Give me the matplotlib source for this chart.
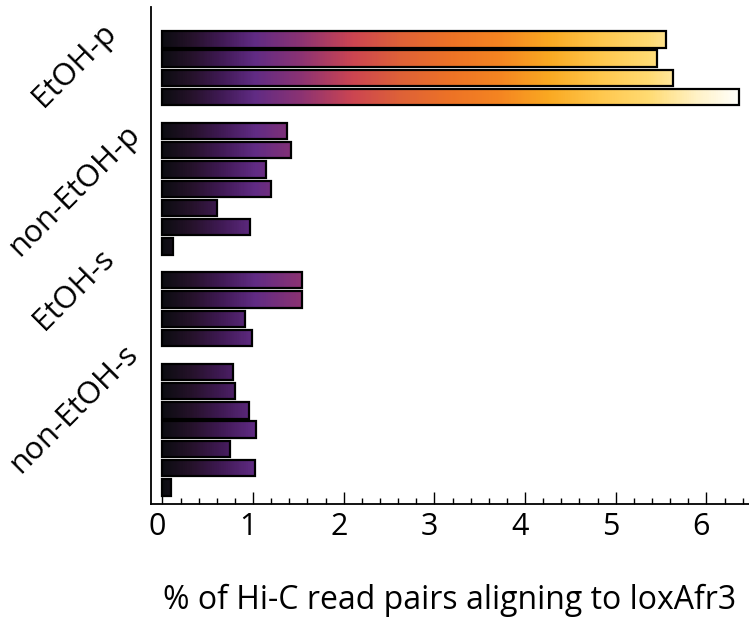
import numpy as np
import matplotlib
matplotlib.use("Agg")
import matplotlib.pyplot as plt
from matplotlib.colors import LinearSegmentedColormap
import matplotlib.transforms as mtransforms

plt.rcParams['font.family'] = ['Open Sans', 'DejaVu Sans']

# ---- data ----
groups = ["EtOH-p", "non-EtOH-p", "EtOH-s", "non-EtOH-s"]
etoh_p = [5.55, 5.46, 5.63, 6.36]
non_etoh_p = [1.37, 1.42, 1.14, 1.20, 0.60, 0.97, 0.12]
etoh_s = [1.54, 1.54, 0.91, 0.99]
non_etoh_s = [0.78, 0.80, 0.96, 1.03, 0.75, 1.02, 0.10]
xticks = [0, 1, 2, 3, 4, 5, 6]
xlabel = "% of Hi-C read pairs aligning to loxAfr3"

series = [etoh_p, non_etoh_p, etoh_s, non_etoh_s]

# ---- layout ----
group_gap = 1.75
label_shift = [-0.17, 0.07, -1.0, -1.07]

ypos, vals, label_pos = [], [], []
cur = 0.0
for gi, s in enumerate(series):
    ys = [cur + i for i in range(len(s))]
    ypos.extend(ys)
    vals.extend(s)
    label_pos.append(np.mean(ys) + label_shift[gi])
    cur = ys[-1] + group_gap

stops = [
    (0.00, (0.05, 0.05, 0.07)),
    (0.05, (0.15, 0.07, 0.17)),
    (0.10, (0.25, 0.10, 0.33)),
    (0.16, (0.38, 0.17, 0.52)),
    (0.24, (0.55, 0.20, 0.45)),
    (0.33, (0.80, 0.27, 0.32)),
    (0.41, (0.87, 0.38, 0.22)),
    (0.50, (0.93, 0.45, 0.15)),
    (0.585, (0.96, 0.52, 0.13)),
    (0.67, (0.98, 0.66, 0.13)),
    (0.76, (1.00, 0.78, 0.30)),
    (0.846, (1.00, 0.86, 0.45)),
    (0.93, (1.00, 0.95, 0.78)),
    (1.00, (1.00, 1.00, 0.98)),
]
cmap = LinearSegmentedColormap.from_list("grad", stops)

fig = plt.figure(figsize=(7.49, 6.17), dpi=100)
ax = fig.add_axes([0.2012, 0.1831, 1.0 - 0.2012, 0.9887 - 0.1831])

gmax = max(vals)
h = 0.85
bars = ax.barh(ypos, vals, height=h, facecolor='none', edgecolor='black',
               linewidth=1.6, zorder=3)
grad = np.linspace(0, 1, 600).reshape(1, -1)
for bar, y in zip(bars, ypos):
    im = ax.imshow(grad, extent=(0, gmax, y + h / 2, y - h / 2), cmap=cmap,
                   aspect='auto', interpolation='bilinear', zorder=2)
    im.set_clip_path(bar)

ax.set_xlim(-0.129, 6.47)
ax.set_ylim(24.11, -1.68)

for sp in ['top', 'right']:
    ax.spines[sp].set_visible(False)
ax.spines['left'].set_linewidth(1.3)
ax.spines['bottom'].set_linewidth(1.3)

ax.set_xticks(xticks)
ax.set_xticks(np.arange(0, 6.5, 0.2), minor=True)
ax.tick_params(axis='x', which='major', direction='in', length=9, width=1,
               labelsize=22, pad=6)
ax.tick_params(axis='x', which='minor', direction='in', length=4.5, width=1)
offset = mtransforms.ScaledTranslation(-5 / 100, 0, fig.dpi_scale_trans)
for lab in ax.get_xticklabels():
    lab.set_transform(lab.get_transform() + offset)

ax.set_yticks(label_pos)
ax.set_yticklabels(groups, rotation=45, ha='center', va='center', fontsize=22.5)
ax.tick_params(axis='y', length=0, pad=55)

ax.set_xlabel(xlabel, fontsize=23, labelpad=30)

fig.savefig("out.png", dpi=100)
